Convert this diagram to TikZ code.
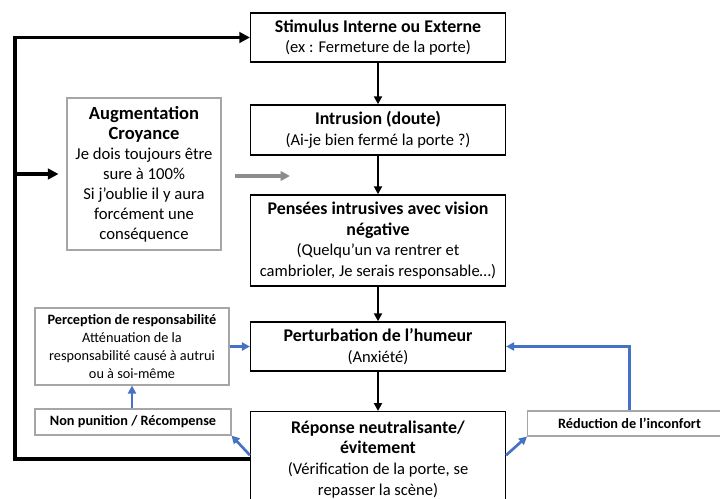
\documentclass[tikz,border=0pt]{standalone}
\usepackage{fontspec}
\setmainfont{Carlito}
\usetikzlibrary{positioning}
\usetikzlibrary{arrows.meta}
\usepackage{xcolor}
\definecolor{linkblue}{HTML}{4472C4}
\definecolor{boxgray}{HTML}{A6A6A6}
\definecolor{arrowgray}{HTML}{8C8C8C}

\tikzset{
  mainbox/.style={draw=black, line width=1.1pt, align=center, minimum width=191pt, inner sep=0pt, font=\fontsize{12.4}{15.5}\selectfont},
  sidebox/.style={draw=boxgray, line width=0.8pt, align=center, inner sep=0pt, font=\fontsize{10.7}{13.5}\selectfont},
  flow/.style={line width=2pt, -{Triangle[length=6pt,width=6pt]}},
  loopline/.style={line width=2.8pt},
  bluelink/.style={linkblue, line width=2pt, -{Triangle[length=6pt,width=6pt]}},
  graylink/.style={arrowgray, line width=2.4pt, -{Triangle[length=7pt,width=7pt]}}
}
\newcommand{\titl}[1]{\textbf{\fontsize{13.4}{15.5}\selectfont #1}}

\begin{document}
\begin{tikzpicture}[x=0.75pt,y=-0.75pt]
\useasboundingbox (0,0) rectangle (720,499);

% main column
\node[mainbox, minimum height=36.75pt] (stim) at (378,37.5) {\titl{Stimulus Interne ou Externe}\\(ex : Fermeture de la porte)};
\node[mainbox, minimum height=37.5pt] (intr) at (378,130) {\titl{Intrusion (doute)}\\(Ai-je bien fermé la porte ?)};
\node[mainbox, minimum height=68.25pt] (pens) at (378,240.5) {\titl{Pensées intrusives avec vision}\\\titl{négative}\\(Quelqu’un va rentrer et\\cambrioler, Je serais responsable…)};
\node[mainbox, minimum height=36.75pt] (pert) at (378,346.5) {\titl{Perturbation de l’humeur}\\(Anxiété)};
\node[mainbox, minimum height=71.25pt, anchor=north] (repo) at (378,411) {\titl{Réponse neutralisante/}\\\titl{évitement}\\(Vérification de la porte, se\\repasser la scène)};

% side boxes
\node[sidebox, minimum width=115.5pt, minimum height=114pt, font=\fontsize{12.5}{15}\selectfont] (augm) at (144,174) {\textbf{\fontsize{13.9}{16.5}\selectfont Augmentation}\\\textbf{\fontsize{13.9}{16.5}\selectfont Croyance}\\Je dois toujours être\\sure à 100\%\\Si j’oublie il y aura\\forcément une\\conséquence};
\node[sidebox, minimum width=145.5pt, minimum height=57.75pt] (perc) at (132,346.5) {\textbf{Perception de responsabilité}\\Atténuation de la\\responsabilité causé à autrui\\ou à soi-même};
\node[sidebox, minimum width=147pt, minimum height=19.5pt] (nonp) at (133,422) {\textbf{Non punition / Récompense}};
\node[sidebox, minimum width=153pt, minimum height=18.75pt, anchor=west] (redu) at (527,423.5) {\textbf{Réduction de l’inconfort}};

% black flow
\draw[flow] (stim) -- (intr);
\draw[flow] (intr) -- (pens);
\draw[flow] (pens) -- (pert);
\draw[flow] (pert) -- (repo);

% feedback loop
\coordinate (loopbranch) at (15,174);
\draw[loopline, -{Triangle[length=8pt,width=8pt]}] (repo.west) -- ++(-235,0) |- (stim.west);
\draw[loopline, -{Triangle[length=8pt,width=8pt]}, shorten >=6pt] (loopbranch) -- (augm.west);

% gray arrow
\coordinate (grayend) at (290,176);
\draw[graylink, shorten <=10pt] (augm.east |- grayend) -- (grayend);

% blue links
\draw[bluelink] (perc.east) -- (pert.west);
\draw[bluelink] (nonp.north -| perc.south) -- (perc.south);
\draw[bluelink] ([yshift=3pt]repo.west) -- (nonp.south east);
\draw[bluelink] ([yshift=3pt]repo.east) -- (redu.south west);
\draw[bluelink] (redu.north) |- (pert.east);
\end{tikzpicture}
\end{document}
